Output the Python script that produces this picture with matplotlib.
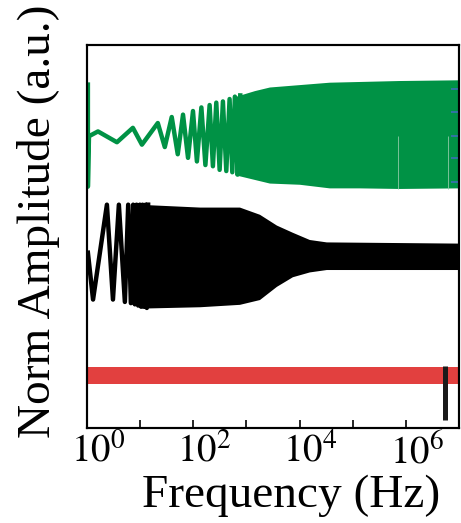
import numpy as np
import matplotlib
matplotlib.use('Agg')
import matplotlib.pyplot as plt
from matplotlib.transforms import ScaledTranslation

plt.rcParams['font.family'] = ['Liberation Serif', 'DejaVu Serif']
plt.rcParams['mathtext.fontset'] = 'stix'

# green trace: resolved low-frequency extrema (Hz, norm amplitude)
green_f = [0.104, 0.104, 0.109, 0.161, 0.366, 0.73, 1.08, 2.15, 2.91, 3.93, 5.10,
           6.41, 7.96, 9.87, 11.7, 14.2, 16.9, 20.3, 23.4, 27.1, 31.3, 36.1,
           41.8, 48.2, 54.2, 60.6, 68.1, 76.5]
green_y = [2.42, 1.57, 1.99, 2.03, 1.94, 2.06, 1.92, 2.10, 1.90, 2.15, 1.84,
           2.17, 1.81, 2.20, 1.78, 2.23, 1.75, 2.25, 1.74, 2.27, 1.71, 2.28,
           1.70, 2.30, 1.69, 2.32, 1.67, 2.33]
# green trace: envelope of the dense high-frequency part
green_env_f = [60, 142, 271, 991, 3620, 13250, 74500, 1e6]
green_env_hi = [2.32, 2.37, 2.40, 2.42, 2.44, 2.446, 2.454, 2.46]
green_env_lo = [1.67, 1.63, 1.60, 1.59, 1.56, 1.56, 1.555, 1.56]
green_gaps = [7.1e4, 6.2e5]

# black trace
black_f = [0.104, 0.130, 0.237, 0.308, 0.398, 0.516, 0.596, 0.669, 0.739, 0.795,
           0.856, 0.917, 0.987, 1.044, 1.109, 1.173, 1.263, 1.336, 1.413]
black_y = [1.02, 0.63, 1.42, 0.63, 1.42, 0.61, 1.42, 0.60, 1.42, 0.59,
           1.42, 0.58, 1.42, 0.57, 1.42, 0.57, 1.42, 0.56, 1.42]
black_env_f = [1.39, 13.2, 74, 176, 367, 733, 1528, 3184, 1e6]
black_env_hi = [1.42, 1.40, 1.40, 1.34, 1.25, 1.19, 1.13, 1.11, 1.10]
black_env_lo = [0.56, 0.57, 0.59, 0.63, 0.74, 0.82, 0.86, 0.88, 0.88]

# red trace (flat band)
red_f = [0.1, 1e6]
red_hi = [0.071, 0.071]
red_lo = [-0.071, -0.071]

# marker bar
bar_f = 5.56e5
bar_y = (-0.37, 0.08)

right_ticks = [2.38, 2.19, 1.99, 1.81, 1.61]

green = '#009245'
red = '#E2403F'

fig = plt.figure(figsize=(4.61, 5.23), dpi=100)
ax = fig.add_axes([0.1887, 0.1816, 0.807, 0.7324])

ax.plot(green_f, green_y, color=green, lw=3.2)
ax.fill_between(green_env_f, green_env_lo, green_env_hi, color=green, lw=0)
ax.vlines(green_gaps, 1.55, 1.99, color='#8fc9a6', lw=0.6)

ax.plot(black_f, black_y, color='black', lw=3.2)
ax.fill_between(black_env_f, black_env_lo, black_env_hi, color='black', lw=0)

ax.fill_between(red_f, red_lo, red_hi, color=red, lw=0)
ax.vlines(bar_f, bar_y[0], bar_y[1], color='#1a1a1a', lw=3.6)

ax.set_xscale('log')
ax.set_xlim(0.1, 1e6)
ax.set_ylim(-0.44, 2.75)

ax.set_xticks([1, 10, 100, 1e3, 1e4, 1e5, 1e6])
ax.set_xticklabels([r'$10^{0}$', '', r'$10^{2}$', '', r'$10^{4}$', '', r'$10^{6}$'])
ax.tick_params(axis='x', which='major', direction='in', length=6, width=1.2,
               labelsize=28, pad=4, top=False)
ax.tick_params(axis='x', which='minor', direction='in', length=3, width=1.0, top=False)
for lab in ax.get_xticklabels():
    lab.set_transform(lab.get_transform() + ScaledTranslation(-0.42, 0, fig.dpi_scale_trans))

ax.set_yticks([])
ax2 = ax.twinx()
ax2.set_ylim(ax.get_ylim())
ax2.set_yticks(right_ticks)
ax2.tick_params(axis='y', direction='in', length=6, width=1.2, color='#3a6fb5',
                labelright=False)

for a in (ax, ax2):
    for s in a.spines.values():
        s.set_linewidth(1.5)

ax.set_xlabel('Frequency (Hz)', fontsize=34)
ax.xaxis.set_label_coords(0.548, -0.122)
ax.set_ylabel('Norm Amplitude (a.u.)', fontsize=34)
ax.yaxis.set_label_coords(-0.072, 0.539)

fig.savefig('out.png', dpi=100)
